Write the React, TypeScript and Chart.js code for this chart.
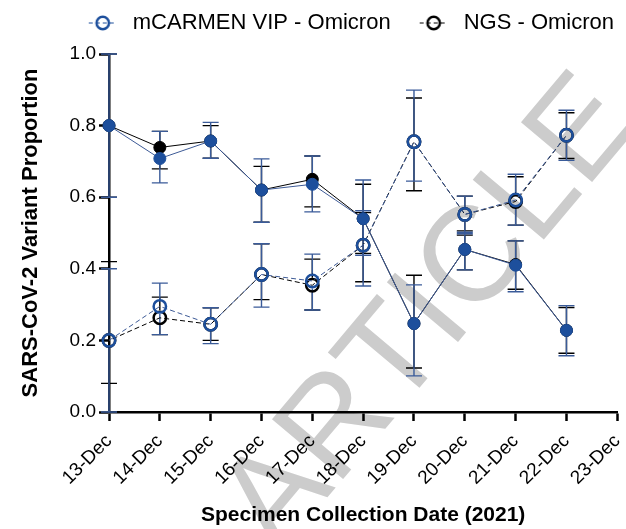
import React, { useEffect, useRef } from "react";
import { Chart, registerables } from "chart.js";

Chart.register(...registerables);

// Collection dates (x categories)
const dates = [
  "13-Dec", "14-Dec", "15-Dec", "16-Dec", "17-Dec", "18-Dec",
  "19-Dec", "20-Dec", "21-Dec", "22-Dec", "23-Dec",
];

// Omicron proportion
const mcarmenOmicron = [0.2, 0.295, 0.245, 0.384, 0.366, 0.466, 0.755, 0.552, 0.592, 0.773, null];
const ngsOmicron = [0.2, 0.263, 0.245, 0.384, 0.354, 0.466, 0.755, 0.552, 0.588, 0.773, null];
// Delta proportion
const mcarmenDelta = [0.8, 0.708, 0.757, 0.62, 0.636, 0.54, 0.247, 0.454, 0.41, 0.228, null];
const ngsDelta = [0.8, 0.739, 0.757, 0.62, 0.65, 0.54, 0.247, 0.454, 0.412, 0.228, null];

// Confidence intervals
const mcarmenOmicronLow = [0.0, 0.216, 0.191, 0.293, 0.285, 0.352, 0.645, 0.498, 0.522, 0.703, null];
const mcarmenOmicronHigh = [0.4, 0.36, 0.291, 0.47, 0.441, 0.562, 0.899, 0.603, 0.664, 0.843, null];
const ngsOmicronLow = [0.08, 0.216, 0.2, 0.314, 0.285, 0.364, 0.618, 0.506, 0.522, 0.708, null];
const ngsOmicronHigh = [0.42, 0.321, 0.291, 0.47, 0.427, 0.557, 0.877, 0.603, 0.657, 0.836, null];
const mcarmenDeltaLow = [0.6, 0.64, 0.709, 0.53, 0.559, 0.438, 0.101, 0.397, 0.336, 0.157, null];
const mcarmenDeltaHigh = [1.0, 0.784, 0.809, 0.707, 0.715, 0.648, 0.355, 0.502, 0.478, 0.297, null];
const ngsDeltaLow = [0.6, 0.679, 0.709, 0.53, 0.573, 0.443, 0.123, 0.397, 0.343, 0.164, null];
const ngsDeltaHigh = [1.0, 0.784, 0.8, 0.686, 0.715, 0.636, 0.382, 0.494, 0.478, 0.292, null];

const yTickStep = 0.2;

const FONT = "'Liberation Sans', Arial, Helvetica, sans-serif";
const BLUE = "#1d4f9c";
const LINE_BLUE = "#3d5a96";
const ERR_BLUE = "#3a5b99";
const BLACK = "#000000";

// Legend symbol: dashed line through an open circle
function makeLegendSymbol(color: string): HTMLCanvasElement {
  const c = document.createElement("canvas");
  c.width = 53;
  c.height = 20;
  const g = c.getContext("2d")!;
  g.strokeStyle = color;
  g.lineWidth = 1;
  g.setLineDash([4, 3]);
  g.beginPath();
  g.moveTo(20, 10);
  g.lineTo(48, 10);
  g.stroke();
  g.setLineDash([]);
  g.lineWidth = 2.5;
  g.beginPath();
  g.arc(34, 10, 6.2, 0, Math.PI * 2);
  g.stroke();
  return c;
}

// Fixed height for the legend band above the plot
const legendBand = {
  id: "legendBand",
  beforeLayout(chart: any) {
    const lg = chart.legend;
    if (lg && !lg.__fixed) {
      const fit = lg.fit.bind(lg);
      lg.fit = () => {
        fit();
        lg.height = 51;
      };
      lg.__fixed = true;
    }
  },
};

const watermark = {
  id: "watermark",
  beforeDraw(chart: any) {
    const { ctx } = chart;
    ctx.save();
    ctx.translate(432, 315);
    ctx.rotate((-50 * Math.PI) / 180);
    ctx.font = `135px ${FONT}`;
    ctx.fillStyle = "#cccccc";
    ctx.textAlign = "center";
    ctx.textBaseline = "middle";
    ctx.fillText("ARTICLE", 0, 0);
    ctx.restore();
  },
};

const errorBars = {
  id: "errorBars",
  beforeDatasetsDraw(chart: any) {
    const { ctx } = chart;
    const yScale = chart.scales.y;
    // draw NGS first so mCARMEN bars sit on top
    const order = [3, 1, 2, 0];
    for (const i of order) {
      const ds = chart.data.datasets[i];
      const meta = chart.getDatasetMeta(i);
      const lo = ds.errLow as (number | null)[];
      const hi = ds.errHigh as (number | null)[];
      const gap = ds.openMarker ? 7.5 : 0;
      ctx.save();
      ctx.strokeStyle = ds.errColor;
      ctx.lineWidth = 1.4;
      meta.data.forEach((pt: any, j: number) => {
        if (lo[j] == null || hi[j] == null || ds.data[j] == null) return;
        const x = pt.x;
        const yc = pt.y;
        const yl = yScale.getPixelForValue(lo[j]);
        const yh = yScale.getPixelForValue(hi[j]);
        ctx.beginPath();
        if (yh < yc - gap) {
          ctx.moveTo(x, yh);
          ctx.lineTo(x, yc - gap);
        }
        if (yl > yc + gap) {
          ctx.moveTo(x, yc + gap);
          ctx.lineTo(x, yl);
        }
        ctx.moveTo(x - 8, yh);
        ctx.lineTo(x + 8, yh);
        ctx.moveTo(x - 8, yl);
        ctx.lineTo(x + 8, yl);
        ctx.stroke();
      });
      ctx.restore();
    }
  },
};

export default function App() {
  const ref = useRef<HTMLCanvasElement | null>(null);

  useEffect(() => {
    document.body.style.margin = "0";
    const canvas = ref.current;
    if (!canvas) return;

    const blueSymbol = makeLegendSymbol(BLUE);
    const blackSymbol = makeLegendSymbol(BLACK);

    const chart = new Chart(canvas, {
      type: "line",
      data: {
        labels: dates,
        datasets: [
          {
            label: "mCARMEN VIP - Omicron",
            data: mcarmenOmicron,
            errLow: mcarmenOmicronLow,
            errHigh: mcarmenOmicronHigh,
            errColor: ERR_BLUE,
            openMarker: true,
            borderColor: LINE_BLUE,
            borderWidth: 1,
            borderDash: [5, 3],
            pointRadius: 6.2,
            pointBorderWidth: 2.5,
            pointBorderColor: BLUE,
            pointBackgroundColor: "rgba(255,255,255,0)",
            clip: false,
          } as any,
          {
            label: "NGS - Omicron",
            data: ngsOmicron,
            errLow: ngsOmicronLow,
            errHigh: ngsOmicronHigh,
            errColor: BLACK,
            openMarker: true,
            borderColor: BLACK,
            borderWidth: 1,
            borderDash: [5, 3],
            borderDashOffset: 4,
            pointRadius: 6.2,
            pointBorderWidth: 2.5,
            pointBorderColor: BLACK,
            pointBackgroundColor: "rgba(255,255,255,0)",
            clip: false,
          } as any,
          {
            label: "mCARMEN VIP - Delta",
            data: mcarmenDelta,
            errLow: mcarmenDeltaLow,
            errHigh: mcarmenDeltaHigh,
            errColor: ERR_BLUE,
            openMarker: false,
            borderColor: LINE_BLUE,
            borderWidth: 1,
            pointRadius: 6,
            pointBorderWidth: 1,
            pointBorderColor: BLUE,
            pointBackgroundColor: BLUE,
            clip: false,
          } as any,
          {
            label: "NGS - Delta",
            data: ngsDelta,
            errLow: ngsDeltaLow,
            errHigh: ngsDeltaHigh,
            errColor: BLACK,
            openMarker: false,
            borderColor: BLACK,
            borderWidth: 1,
            pointRadius: 6,
            pointBorderWidth: 1,
            pointBorderColor: BLACK,
            pointBackgroundColor: BLACK,
            clip: false,
          } as any,
        ],
      },
      options: {
        responsive: false,
        animation: false,
        devicePixelRatio: 1,
        layout: { padding: { top: 3, right: 3, bottom: 0, left: 0 } },
        font: { family: FONT },
        plugins: {
          tooltip: { enabled: false },
          legend: {
            display: true,
            position: "top",
            align: "end",
            labels: {
              usePointStyle: true,
              pointStyleWidth: 53,
              padding: 9,
              color: BLACK,
              font: { family: FONT, size: 22 },
              generateLabels: () => [
                { text: "mCARMEN VIP - Omicron", pointStyle: blueSymbol, datasetIndex: 0, hidden: false, lineWidth: 0, strokeStyle: BLUE, fillStyle: BLUE, fontColor: BLACK } as any,
                { text: "NGS - Omicron", pointStyle: blackSymbol, datasetIndex: 1, hidden: false, lineWidth: 0, strokeStyle: BLACK, fillStyle: BLACK, fontColor: BLACK } as any,
              ],
            },
          },
        },
        scales: {
          x: {
            type: "category",
            offset: false,
            grid: {
              display: true,
              drawOnChartArea: false,
              drawTicks: true,
              tickLength: 9,
              tickWidth: 2.5,
              tickColor: BLACK,
            },
            border: { display: true, color: BLACK, width: 2.5 },
            ticks: {
              autoSkip: false,
              maxRotation: 45,
              minRotation: 45,
              padding: 9,
              color: BLACK,
              font: { family: FONT, size: 19 },
            },
            title: {
              display: true,
              text: "Specimen Collection Date (2021)",
              color: BLACK,
              font: { family: FONT, size: 21, weight: "bold" },
              padding: { top: 0, bottom: 1 },
            },
            afterFit: (s: any) => {
              s.height = 117;
              s.paddingLeft = 0;
              s.paddingRight = 0;
            },
          },
          y: {
            min: 0,
            max: 1,
            grid: {
              display: true,
              drawOnChartArea: false,
              drawTicks: true,
              tickLength: 10,
              tickWidth: 2.5,
              tickColor: BLACK,
            },
            border: { display: true, color: BLACK, width: 2.5 },
            ticks: {
              stepSize: yTickStep,
              padding: 3,
              color: BLACK,
              font: { family: FONT, size: 19 },
              callback: (v: any) => Number(v).toFixed(1),
            },
            title: {
              display: true,
              text: "SARS-CoV-2 Variant Proportion",
              color: BLACK,
              font: { family: FONT, size: 22, weight: "bold" },
              padding: { top: 18, bottom: 0 },
            },
            afterFit: (s: any) => {
              s.width = 109;
              s.paddingTop = 0;
              s.paddingBottom = 0;
            },
          },
        },
      } as any,
      plugins: [legendBand, watermark, errorBars],
    });

    return () => chart.destroy();
  }, []);

  return (
    <div style={{ width: 626, height: 529 }}>
      <canvas ref={ref} width={626} height={529} style={{ display: "block" }} />
    </div>
  );
}
